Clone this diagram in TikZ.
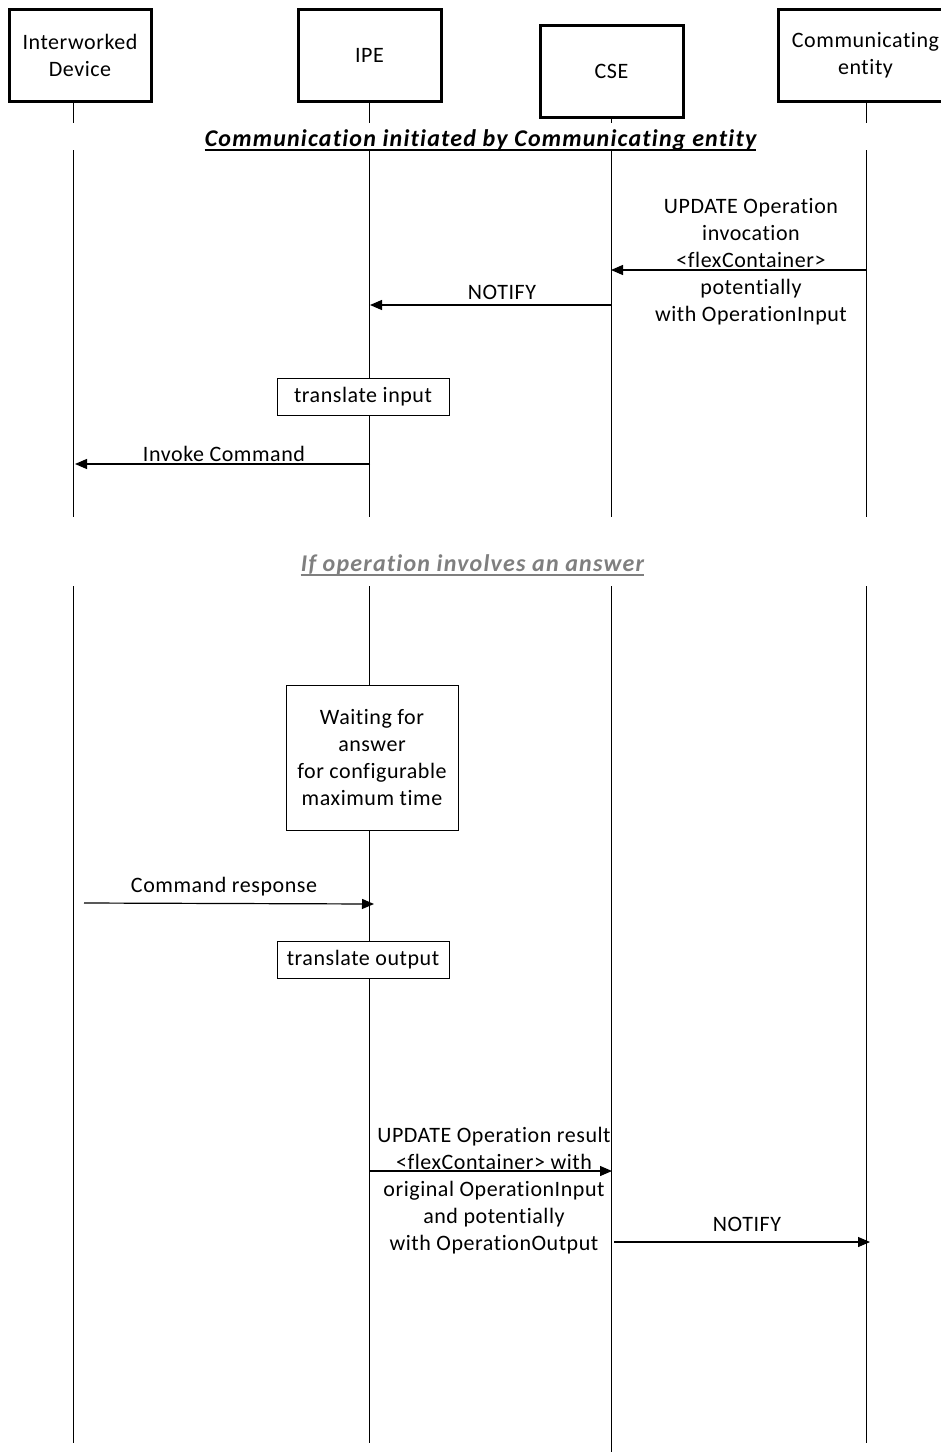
\documentclass[tikz,border=0pt]{standalone}
\usepackage{fontspec}
\setmainfont{Carlito}[Ligatures=NoCommon, LetterSpace=2.5]
\newfontfamily\titlefont{Carlito}[Ligatures=NoCommon, LetterSpace=5]
\usetikzlibrary{arrows.meta}
\definecolor{titlegray}{HTML}{7F7F7F}
\tikzset{
  actor/.style={draw, line width=3pt, minimum height=92pt, align=center,
    font=\fontsize{22}{27}\selectfont, inner sep=0pt},
  life/.style={line width=1pt},
  msg/.style={line width=1.2pt, -{Triangle[length=12pt,width=10pt]}},
  lbl/.style={align=center, font=\fontsize{22}{27}\selectfont, inner sep=0pt},
  procbox/.style={draw, fill=white, line width=1pt, align=center,
    font=\fontsize{22}{27}\selectfont, inner sep=0pt, minimum width=172pt},
  sectitle/.style={font=\titlefont\fontsize{24}{28}\selectfont\bfseries\itshape, inner sep=0pt},
  uline/.style={line width=1.8pt}
}
\begin{document}
\begin{tikzpicture}[x=1pt,y=-1pt]
\useasboundingbox (0,0) rectangle (941,1454);
% actors
\node[actor, minimum width=142pt] (dev) at (80,55.5) {Interworked\\Device};
\node[actor, minimum width=143pt] (ipe) at (369.5,55.5) {IPE};
\node[actor, minimum width=143pt] (cse) at (611.5,71.5) {CSE};
\node[actor, minimum width=175pt] (ce) at (865.5,55.5) {Communicating\\entity};
% lifeline coordinates
\foreach \n/\x/\top/\bot in {dev/73/101/1443, ipe/369/101/1443, cse/611/117/1452, ce/866/101/1443}{
  \coordinate (\n-a) at (\x,\top);
  \coordinate (\n-b) at (\x,123);
  \coordinate (\n-c) at (\x,150);
  \coordinate (\n-d) at (\x,517);
  \coordinate (\n-e) at (\x,586);
  \coordinate (\n-f) at (\x,\bot);
  \draw[life] (\n-a) -- (\n-b) (\n-c) -- (\n-d) (\n-e) -- (\n-f);
}
% section titles
\node[sectitle] (t1) at (480.5,140) {Communication initiated by Communicating entity};
\draw[uline] ([yshift=-3.5pt]t1.base west) -- ([yshift=-3.5pt]t1.base east);
\node[sectitle, text=titlegray] (t2) at (472.5,565) {If operation involves an answer};
\draw[uline, titlegray] ([yshift=-3.5pt]t2.base west) -- ([yshift=-3.5pt]t2.base east);
% message 1
\coordinate (m1s) at (866,270); \coordinate (m1e) at (611,270);
\draw[msg] (m1s) -- (m1e);
\node[lbl] (l1) at (751,262) {UPDATE Operation\\invocation\\<flexContainer>\\potentially\\with OperationInput};
% message 2
\coordinate (m2s) at (611,305); \coordinate (m2e) at (370,305);
\draw[msg] (m2s) -- (m2e);
\node[lbl] (l2) at (502,292) {NOTIFY};
% translate input
\node[procbox, minimum height=37pt] (tin) at (363,396.5) {translate input};
% message 3
\coordinate (m3s) at (370,464); \coordinate (m3e) at (75,464);
\draw[msg] (m3s) -- (m3e);
\node[lbl] (l3) at (224,454) {Invoke Command};
% waiting box
\node[procbox, minimum height=145pt] (wait) at (372,757.5) {Waiting for\\answer\\for configurable\\maximum time};
% message 4
\coordinate (m4s) at (84,903); \coordinate (m4e) at (374,904);
\draw[msg] (m4s) -- (m4e);
\node[lbl] (l4) at (224,887) {Command response};
% translate output
\node[procbox, minimum height=37pt] (tout) at (363,959.5) {translate output};
% message 5
\coordinate (m5s) at (369,1171); \coordinate (m5e) at (612,1171);
\draw[msg] (m5s) -- (m5e);
\node[lbl] (l5) at (494,1191) {UPDATE Operation result\\<flexContainer> with\\original OperationInput\\and potentially\\with OperationOutput};
% message 6
\coordinate (m6s) at (614,1242); \coordinate (m6e) at (870,1242);
\draw[msg] (m6s) -- (m6e);
\node[lbl] (l6) at (747,1224) {NOTIFY};
\end{tikzpicture}
\end{document}
